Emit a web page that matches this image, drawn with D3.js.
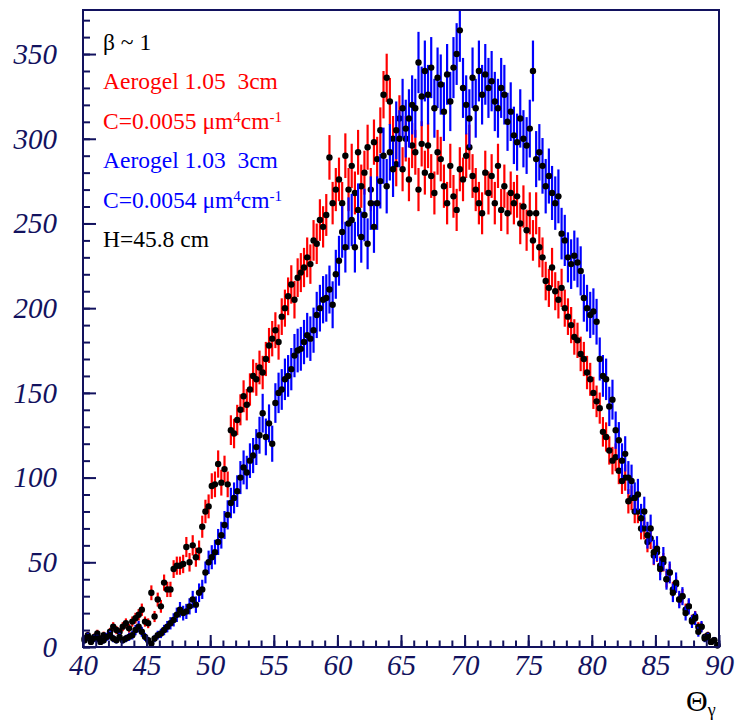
<!DOCTYPE html>
<html>
<head>
<meta charset="utf-8">
<script src="https://cdn.jsdelivr.net/npm/d3@7"></script>
<style>
  html, body { margin: 0; padding: 0; background: #fff; }
  svg { display: block; }
  .tick text { font-family: "Liberation Serif", "DejaVu Serif", serif; font-style: italic; }
</style>
</head>
<body>
<div id="vis"></div>
<script>
const WIDTH = 735;
const HEIGHT = 722;
const NAVY = "#12125e";

// histogram binning: 200 bins of 0.25 deg from 40 to 90
const binStart = 40;
const binWidth = 0.25;

// n = 1.05 aerogel (red), 4 bins per degree
const redCounts = [
  5, 7, 4, 6,   8, 5, 7, 6,   9, 12, 10, 9,   12, 14, 11, 15,   17, 19, 22, 15,
  14, 32, 18, 28,   24, 38, 34, 34,   46, 48, 48, 49,   59, 50, 60, 53,   57, 71, 80, 83,
  95, 96, 108, 97,   105, 96, 128, 126,   134, 140, 148, 143,   152, 160, 158, 165,   162, 170, 178, 182,
  187, 180, 195, 200,   207, 214, 205, 218,   221, 224, 230, 226,   240, 238, 252, 248,   255, 289, 262, 270,
  276, 262, 290, 270,   284, 268, 292, 272,   280, 295, 270, 298,   288, 305, 326, 336,   322, 300, 285, 312,
  282, 300, 276, 296,   292, 270, 297, 280,   296, 278, 268, 292,   288, 272, 262, 284,   266, 258, 282, 276,
  290, 295, 278, 270,   262, 256, 280, 268,   278, 262, 284, 258,   272, 256, 268, 262,   266, 250, 260, 246,
  256, 240, 256, 236,   230, 216, 212, 224,   210, 205, 212, 200,   195, 190, 183, 181,   173, 170, 162, 158,
  150, 145, 141, 127,   124, 116, 110, 112,   104, 98, 100, 86,   88, 80, 80, 70,   70, 62, 64, 54,
  56, 48, 50, 40,   44, 34, 37, 28,   30, 22, 24, 16,   18, 12, 12, 6,   7, 3, 4, 1
];

// n = 1.03 aerogel (blue)
const blueCounts = [
  4, 6, 3, 5,   5, 3, 4, 6,   7, 5, 4, 6,   4, 5, 6, 7,   10, 12, 9, 6,
  4, 2, 5, 7,   8, 10, 12, 14,   16, 19, 22, 20,   21, 24, 28, 25,   32, 34, 44, 50,
  53, 56, 62, 66,   72, 78, 85, 88,   92, 100, 106, 103,   110, 113, 118, 125,   138, 124, 132, 120,
  144, 150, 152, 158,   160, 164, 172, 175,   176, 180, 184, 182,   187, 196, 200, 205,   206, 211, 202, 220,
  228, 245, 236, 250,   252, 236, 258, 242,   255, 238, 262, 248,   262, 275, 290, 272,   292, 282, 305, 300,
  318, 306, 312, 320,   318, 345, 325, 340,   326, 342, 318, 336,   332, 316, 338, 322,   342, 350, 364, 330,
  320, 312, 336, 318,   340, 326, 338, 330,   334, 322, 318, 330,   326, 310, 316, 302,   298, 312, 300, 296,
  306, 340, 288, 292,   284, 272, 278, 268,   262, 266, 244, 240,   230, 226, 231, 227,   222, 206, 200, 196,
  198, 192, 170, 160,   158, 142, 146, 128,   122, 110, 114, 100,   98, 88, 90, 76,   80, 66, 70, 56,
  58, 46, 52, 40,   44, 32, 38, 28,   30, 20, 24, 15,   17, 9, 12, 5,   6, 3, 4, 1
];

// histograms are scaled counts, error = sqrt(scale * value)
const redErrScale = 0.6;
const blueErrScale = 0.95;

const xMajorTicks = [40, 45, 50, 55, 60, 65, 70, 75, 80, 85, 90];
const yMajorTicks = [0, 50, 100, 150, 200, 250, 300, 350];

const legendLines = [
  { parts: [["β ~ 1"]], colour: "#000" },
  { parts: [["Aerogel 1.05\u00a0 3cm"]], colour: "#ff0000" },
  { parts: [["C=0.0055 μm"], ["4", "sup"], ["cm"], ["-1", "sup"]], colour: "#ff0000" },
  { parts: [["Aerogel 1.03\u00a0 3cm"]], colour: "#0000ff" },
  { parts: [["C=0.0054 μm"], ["4", "sup"], ["cm"], ["-1", "sup"]], colour: "#0000ff" },
  { parts: [["H=45.8 cm"]], colour: "#000" }
];

const plot = { left: 83, right: 719, top: 10, bottom: 647 };

const x = d3.scaleLinear().domain([40, 90]).range([plot.left, plot.right]);
const y = d3.scaleLinear().domain([0, 376]).range([plot.bottom, plot.top]);

const svg = d3.select("#vis").append("svg")
  .attr("width", WIDTH)
  .attr("height", HEIGHT);

// turn counts into points with bin centres
function makeNodes(counts, scale) {
  return counts.map((v, i) => ({
    x: binStart + binWidth * (i + 0.5),
    v: v,
    err: Math.sqrt(scale * v)
  }));
}

const redNodes = makeNodes(redCounts, redErrScale);
const blueNodes = makeNodes(blueCounts, blueErrScale);

const plotArea = svg.append("g");

function drawSeries(nodes, colour) {
  plotArea.append("g")
    .selectAll("line")
    .data(nodes)
    .enter()
    .append("line")
    .attr("x1", d => x(d.x))
    .attr("x2", d => x(d.x))
    .attr("y1", d => y(Math.max(0, d.v - d.err)))
    .attr("y2", d => y(Math.min(376, d.v + d.err)))
    .attr("stroke", colour)
    .attr("stroke-width", 2.2);

  plotArea.append("g")
    .selectAll("circle")
    .data(nodes)
    .enter()
    .append("circle")
    .attr("cx", d => x(d.x))
    .attr("cy", d => y(d.v))
    .attr("r", 3.2)
    .attr("fill", "#000");
}

drawSeries(redNodes, "#ff0000");
drawSeries(blueNodes, "#0000ff");

// axes: major ticks with labels, minor ticks without
function styleAxis(g) {
  g.select(".domain").remove();
  g.selectAll(".tick line").attr("stroke", NAVY).attr("stroke-width", 2);
  g.selectAll(".tick text").attr("fill", NAVY).style("font-size", "29px");
}

svg.append("g")
  .attr("transform", `translate(0,${plot.bottom})`)
  .call(d3.axisBottom(x).tickValues(d3.range(40, 91, 1)).tickSize(-6.5).tickFormat(""))
  .call(styleAxis);

svg.append("g")
  .attr("transform", `translate(0,${plot.bottom})`)
  .call(d3.axisBottom(x).tickValues(xMajorTicks).tickSize(-12).tickPadding(7).tickFormat(d3.format("d")))
  .call(styleAxis);

svg.append("g")
  .attr("transform", `translate(${plot.left},0)`)
  .call(d3.axisLeft(y).tickValues(d3.range(0, 371, 10)).tickSize(-7).tickFormat(""))
  .call(styleAxis);

svg.append("g")
  .attr("transform", `translate(${plot.left},0)`)
  .call(d3.axisLeft(y).tickValues(yMajorTicks).tickSize(-13).tickPadding(26).tickFormat(d3.format("d")))
  .call(styleAxis);

// frame
svg.append("rect")
  .attr("x", plot.left)
  .attr("y", plot.top)
  .attr("width", plot.right - plot.left)
  .attr("height", plot.bottom - plot.top)
  .attr("fill", "none")
  .attr("stroke", NAVY)
  .attr("stroke-width", 2);

// legend text
const legend = svg.append("g")
  .style("font-family", "'Liberation Serif', 'DejaVu Serif', serif")
  .style("font-size", "23.5px");

legendLines.forEach((line, i) => {
  const t = legend.append("text")
    .attr("x", 103)
    .attr("y", 50 + i * 39.4)
    .attr("fill", line.colour);
  line.parts.forEach(p => {
    const ts = t.append("tspan").text(p[0]);
    if (p[1] === "sup") {
      ts.attr("baseline-shift", "45%").style("font-size", "15px");
    }
  });
});

// x axis title
const xt = svg.append("text")
  .attr("x", 686)
  .attr("y", 711)
  .attr("fill", "#000")
  .style("font-family", "'Liberation Serif', 'DejaVu Serif', serif")
  .style("font-size", "30px");
xt.append("tspan").text("Θ");
xt.append("tspan").text("γ").attr("dy", 5).style("font-size", "18px");
</script>
</body>
</html>
